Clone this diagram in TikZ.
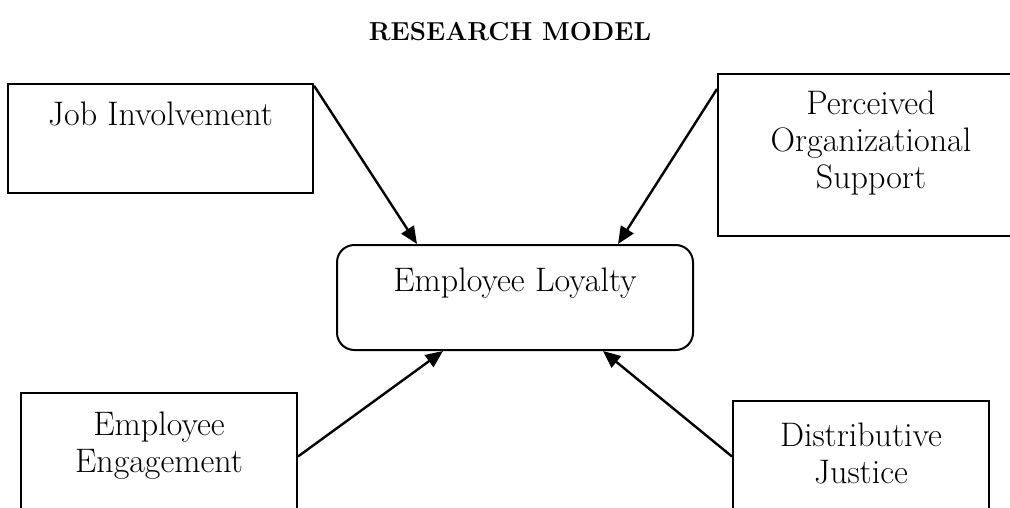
\documentclass[tikz,border=0pt]{standalone}
\usetikzlibrary{arrows.meta}

\begin{document}
\begin{tikzpicture}[
    x=0.75pt, y=-0.75pt,
    box/.style={rectangle, draw, line width=1.5pt},
    txt/.style={font=\fontsize{25.5}{28}\selectfont, align=center, inner sep=0pt, anchor=north},
    heading/.style={font=\fontsize{19.5}{23}\selectfont\bfseries, inner sep=0pt, anchor=base},
    link/.style={-{Triangle[length=13pt, width=11pt]}, line width=1.8pt}
]
    \useasboundingbox (0,0) rectangle (1010,507);
    \clip (0,0) rectangle (1010,507);

    % Title
    \node[heading] (title) at (510,40) {RESEARCH MODEL};

    % Dependent variable
    \node[box, rounded corners=13pt, minimum width=267pt, minimum height=78.75pt] (loyalty) at (515,297.5) {};
    \node[txt] (loyalty_text) at ([yshift=-17.5pt]loyalty.north) {Employee Loyalty};

    % Independent variables
    \node[box, minimum width=228.75pt, minimum height=81.75pt] (involve) at (160.5,138.5) {};
    \node[txt] (involve_text) at ([yshift=-13.8pt]involve.north) {Job Involvement};

    \node[box, minimum width=229.5pt, minimum height=121.5pt] (support) at (871,155) {};
    \node[txt] (support_text) at ([yshift=-13pt]support.north) {Perceived\\Organizational\\Support};

    \node[box, minimum width=207pt, minimum height=95.25pt] (engage) at (159,456.5) {};
    \node[txt] (engage_text) at ([yshift=-14.5pt]engage.north) {Employee\\Engagement};

    \node[box, minimum width=192pt, minimum height=89.25pt] (justice) at (861,460.5) {};
    \node[txt] (justice_text) at ([yshift=-16.8pt]justice.north) {Distributive\\Justice};

    % Arrows
    \draw[link] ([yshift=-2pt]involve.north east) -- ([xshift=-73.5pt]loyalty.north);
    \draw[link] ([yshift=-12pt]support.north west) -- ([xshift=77.25pt]loyalty.north);
    \draw[link] (engage.east) -- ([xshift=-54pt]loyalty.south);
    \draw[link] ([yshift=3pt]justice.west) -- ([xshift=66pt]loyalty.south);

\end{tikzpicture}
\end{document}
